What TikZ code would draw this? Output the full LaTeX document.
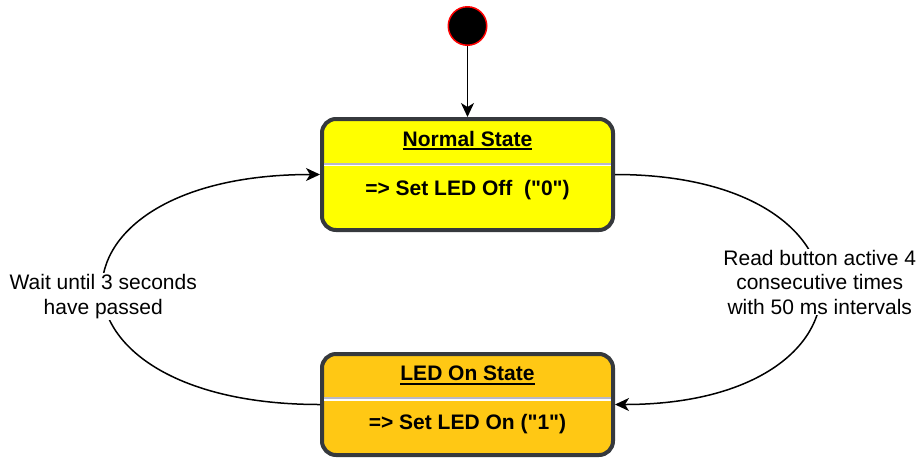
\documentclass[tikz,border=0pt]{standalone}
\usepackage{fontspec}
\setmainfont{Liberation Sans}[Ligatures=TeXOff]
\usetikzlibrary{arrows.meta}

\definecolor{stateline}{HTML}{36393D}
\definecolor{normalfill}{HTML}{FFFF00}
\definecolor{ledfill}{HTML}{FFC814}
\definecolor{sepgray}{HTML}{B8B8C8}
\definecolor{initred}{HTML}{FF0000}

% underlined title with a thick rule
\newcommand\ultitle[1]{\setbox0\hbox{#1}\rlap{\rule[-4pt]{\wd0}{1.7pt}}\box0}

\begin{document}
\begin{tikzpicture}[x=1pt,y=-1pt,
  statebox/.style={draw=stateline, line width=4pt, rounded corners=14pt,
    minimum width=291pt, minimum height=#1, inner sep=0pt, outer sep=2pt},
  statetext/.style={font=\fontsize{21}{25}\selectfont\bfseries, inner sep=0pt, anchor=base},
  lbl/.style={font=\fontsize{21}{24.5}\selectfont, align=center, fill=white, inner sep=1pt},
  trans/.style={line width=1.5pt, -{Stealth[length=14pt,width=13pt,inset=4pt]}},
  sepline/.style={sepgray, line width=2pt},
  sepwhite/.style={white, line width=1.8pt}
]
\useasboundingbox (0,0) rectangle (916,459);

% states
\node[statebox=111pt, fill=normalfill] (normal) at (467.5,174.5) {};
\node[statebox=101pt, fill=ledfill] (ledon) at (467.5,404.5) {};

% compartment separators
\draw[sepline] (324,163.5) -- (611,163.5);
\draw[sepwhite] (324,165.4) -- (611,165.4);
\draw[sepline] (324,398.3) -- (611,398.3);
\draw[sepwhite] (324,400.2) -- (611,400.2);

% state texts
\node[statetext] (normaltitle) at (467.5,146) {\ultitle{Normal State}};
\node[statetext] (normalaction) at (467.5,195) {=> Set LED Off~~("0")};
\node[statetext] (ledtitle) at (467.5,380.5) {\ultitle{LED On State}};
\node[statetext] (ledaction) at (467.5,429.5) {=> Set LED On ("1")};

% initial pseudo-state
\node[circle, fill=black, draw=initred, line width=1.5pt, minimum size=38.5pt, inner sep=0pt] (init) at (467.5,26) {};

% transitions
\draw[trans] (init.south) -- (normal.north);
\draw[trans] (normal.east) .. controls (888,174.5) and (888,404.5) .. (ledon.east)
  node[lbl, pos=0.5, yshift=7.5pt] (readlbl) {Read button active 4\\consecutive times\\with 50 ms intervals};
\draw[trans] (ledon.west) .. controls (31,404.5) and (31,174.5) .. (normal.west)
  node[lbl, pos=0.5, yshift=-7pt] (waitlbl) {Wait until 3 seconds\\have passed};
\end{tikzpicture}
\end{document}
